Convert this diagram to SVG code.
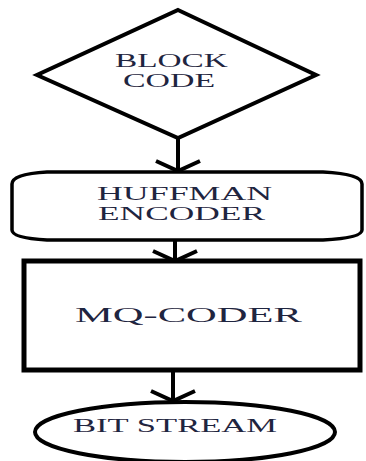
<svg xmlns="http://www.w3.org/2000/svg" width="366" height="461" viewBox="0 0 366 461">
<style>
.shape{fill:#ffffff;stroke:#000000;stroke-linejoin:miter}
.lbl{font-family:"Liberation Serif","Times New Roman",serif;fill:#1f2540}
.conn{stroke:#000000;stroke-width:4;fill:none}
</style>
<defs>
<marker id="chev" markerUnits="userSpaceOnUse" viewBox="-14 -26 18 52" refX="0" refY="0" markerWidth="18" markerHeight="52" orient="auto" overflow="visible">
<path d="M-10,-22 L0,0 L-10,22" fill="none" stroke="#000" stroke-width="4" stroke-linejoin="miter"/>
</marker>
</defs>
<rect width="366" height="461" fill="#ffffff"/>
<g id="connectors">
<line class="conn" x1="178" y1="138" x2="178" y2="171" marker-end="url(#chev)"/>
<line class="conn" x1="175" y1="240" x2="175" y2="261" marker-end="url(#chev)"/>
<line class="conn" x1="173" y1="370" x2="173" y2="401" marker-end="url(#chev)"/>
</g>
<g id="block-code">
<polygon class="shape" stroke-width="4" points="178,10 316,75 178,138 37,75"/>
<text class="lbl" font-size="18" transform="translate(115,67) scale(1.85,1)" textLength="61" lengthAdjust="spacingAndGlyphs">BLOCK</text>
<text class="lbl" font-size="18" transform="translate(123,87) scale(1.88,1)" textLength="49" lengthAdjust="spacingAndGlyphs">CODE</text>
</g>
<g id="huffman-encoder">
<path class="shape" stroke-width="3.5" d="M47,172 H323 Q362,174 362,184 V230 Q362,238 323,240 H47 Q12,238 12,230 V184 Q12,174 47,172 Z"/>
<text class="lbl" font-size="18" transform="translate(97,200) scale(1.99,1)" textLength="88" lengthAdjust="spacingAndGlyphs">HUFFMAN</text>
<text class="lbl" font-size="18" transform="translate(98,220) scale(1.96,1)" textLength="85.2" lengthAdjust="spacingAndGlyphs">ENCODER</text>
</g>
<g id="mq-coder">
<rect class="shape" stroke-width="5" x="24" y="261" width="336" height="109"/>
<text class="lbl" font-size="22" transform="translate(75,322) scale(1.93,1)" textLength="117.6" lengthAdjust="spacingAndGlyphs">MQ-CODER</text>
</g>
<g id="bit-stream">
<ellipse class="shape" stroke-width="4" cx="185" cy="432" rx="150" ry="30"/>
<text class="lbl" font-size="18" transform="translate(73,432) scale(1.92,1)" textLength="106.3" lengthAdjust="spacingAndGlyphs">BIT STREAM</text>
</g>
</svg>
